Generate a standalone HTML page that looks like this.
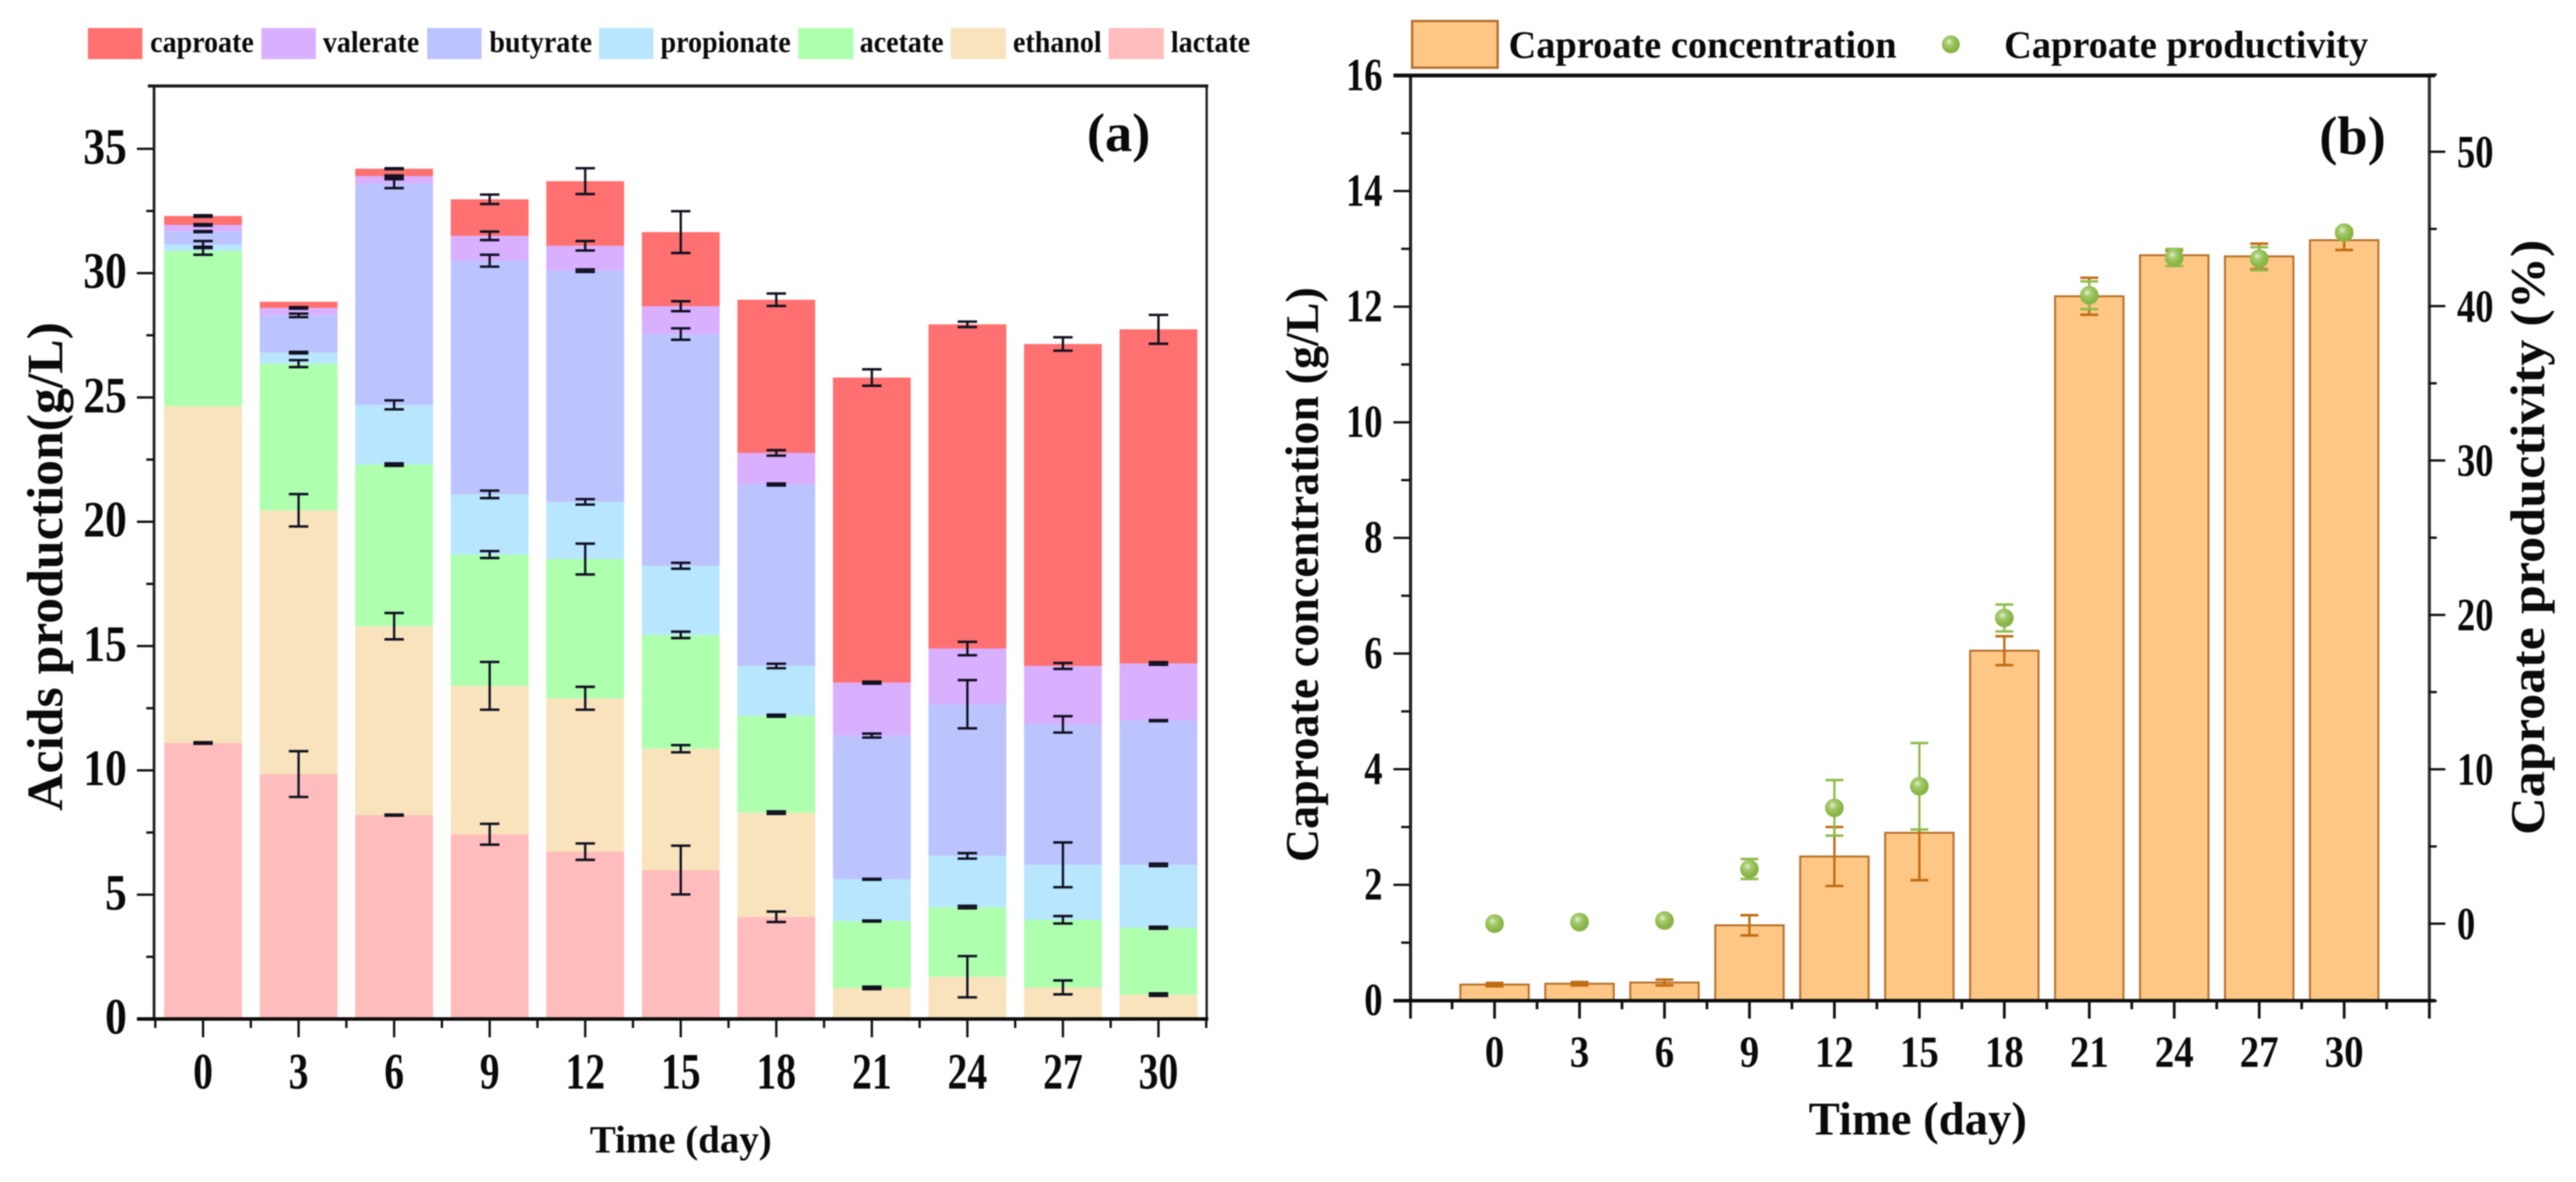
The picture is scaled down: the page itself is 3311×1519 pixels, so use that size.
<!DOCTYPE html>
<html lang="en">
<head>
<meta charset="utf-8">
<title>Caproate production charts</title>
<style>
html,body{margin:0;padding:0;background:#fff;}
#figure{display:block;width:3311px;height:1519px;filter:blur(0.7px);}
text{font-family:"Liberation Serif","Times New Roman",serif;font-weight:bold;fill:#0a0a0a;}
</style>
</head>
<body>
<svg id="figure" xmlns="http://www.w3.org/2000/svg" width="3311" height="1519" viewBox="0 0 3311 1519">
  <defs>
    <radialGradient id="ballGrad" cx="0.4" cy="0.36" r="0.62">
      <stop offset="0" stop-color="#e4f2cf"/>
      <stop offset="0.3" stop-color="#a9cc74"/>
      <stop offset="0.75" stop-color="#8ab848"/>
      <stop offset="1" stop-color="#86b344"/>
    </radialGradient>
  </defs>
  <rect width="3311" height="1519" fill="#fff"/>

  <g id="panelA">
    <g id="barsA"></g>
    <g id="errA"></g>
    <g id="axesA"></g>
    <g>
      <rect x="113" y="36" width="70" height="40" fill="#ff7070"/>
      <text transform="translate(193,67) scale(1,1.08)" font-size="36">caproate</text>
      <rect x="336" y="36" width="70" height="40" fill="#d8b0ff"/>
      <text transform="translate(415,67) scale(1,1.08)" font-size="36">valerate</text>
      <rect x="549" y="36" width="70" height="40" fill="#bcc4ff"/>
      <text transform="translate(629,67) scale(1,1.08)" font-size="36">butyrate</text>
      <rect x="770" y="36" width="70" height="40" fill="#b8e6ff"/>
      <text transform="translate(849,67) scale(1,1.08)" font-size="36">propionate</text>
      <rect x="1026" y="36" width="71" height="40" fill="#aeffae"/>
      <text transform="translate(1105,67) scale(1,1.08)" font-size="36">acetate</text>
      <rect x="1222" y="36" width="71" height="40" fill="#f8e3bc"/>
      <text transform="translate(1302,67) scale(1,1.08)" font-size="36">ethanol</text>
      <rect x="1425" y="36" width="71" height="40" fill="#ffbcbc"/>
      <text transform="translate(1505,67) scale(1,1.08)" font-size="36">lactate</text>
    </g>
    <text x="1397" y="194" font-size="70">(a)</text>
    <text x="875" y="1481" font-size="50" text-anchor="middle">Time (day)</text>
    <text transform="translate(80,1042) rotate(-90)" font-size="66" textLength="628" lengthAdjust="spacingAndGlyphs">Acids production(g/L)</text>
  </g>

  <g id="panelB">
    <g id="barsB"></g>
    <g id="errB"></g>
    <g id="ptsB"></g>
    <g id="axesB"></g>
    <g>
      <rect x="1815" y="27" width="110" height="60" fill="#ffc785" stroke="#b5702a" stroke-width="3"/>
      <text x="1939" y="74" font-size="49.3">Caproate concentration</text>
      <circle cx="2507.5" cy="57" r="11.5" fill="url(#ballGrad)"/>
      <text x="2576" y="74" font-size="49.3">Caproate productivity</text>
    </g>
    <text x="2981" y="198" font-size="70">(b)</text>
    <text x="2465" y="1458" font-size="60" text-anchor="middle">Time (day)</text>
    <text transform="translate(1694,1108) rotate(-90)" font-size="60" textLength="739" lengthAdjust="spacingAndGlyphs">Caproate concentration (g/L)</text>
    <text transform="translate(3270,1073) rotate(-90)" font-size="62" textLength="765" lengthAdjust="spacingAndGlyphs">Caproate productivity (%)</text>
  </g>
</svg>

<script>
const days = [0,3,6,9,12,15,18,21,24,27,30];

const seriesNames = ['lactate','ethanol','acetate','propionate','butyrate','valerate','caproate'];
const lactate    = [11.1,9.85,8.2,7.43,6.73,5.99,4.11,0,0,0,0];
const ethanol    = [13.55,10.61,7.6,5.97,6.17,4.88,4.19,1.25,1.7,1.27,0.98];
const acetate    = [6.25,5.9,6.5,5.28,5.6,4.58,3.9,2.69,2.8,2.72,2.69];
const propionate = [0.25,0.44,2.4,2.42,2.3,2.78,2.0,1.68,2.06,2.21,2.53];
const butyrate   = [0.52,1.5,8.9,9.4,9.3,9.32,7.3,5.78,6.1,5.65,5.8];
const valerate   = [0.27,0.3,0.3,1.0,1.0,1.12,1.27,2.13,2.24,2.35,2.3];
const caproate   = [0.36,0.25,0.3,1.47,2.6,2.98,6.16,12.27,13.04,12.95,13.44];

const lactateErr    = [0.03,0.92,0.02,0.42,0.33,0.98,0.21,0,0,0,0];
const ethanolErr    = [0,0.65,0.53,0.96,0.46,0.145,0.05,0.05,0.83,0.28,0.05];
const acetateErr    = [0.16,0.14,0.05,0.14,0.62,0.13,0.04,0.02,0.05,0.15,0.04];
const propionateErr = [0.14,0.03,0.18,0.15,0.11,0.12,0.09,0.02,0.11,0.9,0.05];
const butyrateErr   = [0.02,0.07,0.18,0.24,0.05,0.23,0.04,0.08,0.97,0.33,0.02];
const valerateErr   = [0.03,0.03,0.03,0.17,0.19,0.2,0.11,0.04,0.27,0.12,0.05];
const caproateErr   = [0.03,0,0.02,0.19,0.52,0.84,0.25,0.33,0.11,0.27,0.58];

const yTicksA = [0,5,10,15,20,25,30,35];
const yMinorTicksA = [2.5,7.5,12.5,17.5,22.5,27.5,32.5];

const concentration    = [0.275,0.29,0.31,1.3,2.49,2.9,6.05,12.18,12.89,12.87,13.15];
const concentrationErr = [0.03,0.03,0.05,0.175,0.51,0.82,0.25,0.32,0.08,0.22,0.17];
const productivity     = [0,0.1,0.2,3.54,7.5,8.9,19.8,40.7,43.15,43.07,44.76];
const productivityErr  = [0,0,0,0.65,1.8,2.8,0.87,0.9,0.55,0.75,0.2];

const yTicksLeftB = [0,2,4,6,8,10,12,14,16];
const yMinorLeftB = [1,3,5,7,9,11,13,15];
const yTicksRightB = [0,10,20,30,40,50];
const yMinorRightB = [-5,5,15,25,35,45,55];

const NS = 'http://www.w3.org/2000/svg';
const colorsA = {lactate:'#ffbcbc',ethanol:'#f8e3bc',acetate:'#aeffae',propionate:'#b8e6ff',butyrate:'#bcc4ff',valerate:'#d8b0ff',caproate:'#ff7070'};
const valuesA = {lactate,ethanol,acetate,propionate,butyrate,valerate,caproate};
const errorsA = {lactate:lactateErr,ethanol:ethanolErr,acetate:acetateErr,propionate:propionateErr,butyrate:butyrateErr,valerate:valerateErr,caproate:caproateErr};

const xA = i => 261 + 122.8 * i;
const yA = v => 1309.5 - 31.95 * v;
const xB = i => 1921 + 109.2 * i;
const yBL = v => 1285.7 - 74.3 * v;
const yBR = v => 1187 - 19.84 * v;

function shape(tag, parent, name) {
  const el = document.createElementNS(NS, tag);
  
  
  parent.appendChild(el);
  return el;
}
function line(parent, name, x1, y1, x2, y2, color, w) {
  const el = shape('line', parent, name);
  el.setAttribute('x1', x1);
  el.setAttribute('y1', y1);
  el.setAttribute('x2', x2);
  el.setAttribute('y2', y2);
  el.setAttribute('stroke', color);
  el.setAttribute('stroke-width', w);
  return el;
}
function rect(parent, name, x, y, w, h, fill) {
  const el = shape('rect', parent, name);
  el.setAttribute('x', x);
  el.setAttribute('y', y);
  el.setAttribute('width', w);
  el.setAttribute('height', h);
  el.setAttribute('fill', fill);
  return el;
}
function errorBar(parent, name, x, yTop, yBot, capW, color) {
  const g = shape('g', parent, name);
  line(g, 'error-stem', x, yTop, x, yBot, color, 3);
  line(g, 'error-cap-top', x - capW / 2, yTop, x + capW / 2, yTop, color, 3.2);
  line(g, 'error-cap-bottom', x - capW / 2, yBot, x + capW / 2, yBot, color, 3.2);
}
function label(parent, name, str, x, cy, size, anchor, sy) {
  const el = shape('text', parent, name);
  el.setAttribute('transform', 'translate(' + x + ',' + cy + ') scale(1,' + sy + ')');
  el.setAttribute('y', size * 0.338);
  el.setAttribute('font-size', size);
  el.setAttribute('text-anchor', anchor);
  el.textContent = str;
  return el;
}

/* Panel A */
const barsA = document.getElementById('barsA');
const errA = document.getElementById('errA');
const axesA = document.getElementById('axesA');
days.forEach((d, i) => {
  let base = 0;
  seriesNames.forEach(name => {
    const v = valuesA[name][i];
    const top = base + v;
    if (v > 0) {
      rect(barsA, 'bar-' + name + '-day-' + d, xA(i) - 50, yA(top), 100, yA(base) - yA(top), colorsA[name]);
    }
    const e = errorsA[name][i];
    if (e > 0) {
      errorBar(errA, 'error-' + name + '-day-' + d, xA(i), yA(top + e), yA(top - e), 25, '#111122');
    }
    base = top;
  });
});
line(axesA, 'left-spine', 198, 109, 198, 1311, '#222', 3.5);
line(axesA, 'right-spine', 1551, 109, 1551, 1311, '#222', 3);
line(axesA, 'top-spine', 190, 110.5, 1553, 110.5, '#1a1a1a', 4);
line(axesA, 'bottom-spine', 176, 1309.5, 1553, 1309.5, '#0a0a0a', 4.5);
yTicksA.forEach(v => {
  if (v > 0) {
    line(axesA, 'y-tick-' + v, 176, yA(v), 198, yA(v), '#111', 3);
  }
  label(axesA, 'y-tick-label-' + v, String(v), 163, yA(v) - 3, 56, 'end', 1.17);
});
yMinorTicksA.forEach(v => {
  line(axesA, 'y-minor-tick', 188, yA(v), 198, yA(v), '#111', 3);
});
days.forEach((d, i) => {
  line(axesA, 'x-tick-' + d, xA(i), 1309.5, xA(i), 1333, '#111', 3);
  label(axesA, 'x-tick-label-' + d, String(d), xA(i), 1377, 51, 'middle', 1.28);
});
for (let i = 0; i <= days.length; i++) {
  line(axesA, 'x-minor-tick', xA(i - 0.5), 1309.5, xA(i - 0.5), 1321, '#111', 3);
}

/* Panel B */
const barsB = document.getElementById('barsB');
const errB = document.getElementById('errB');
const ptsB = document.getElementById('ptsB');
const axesB = document.getElementById('axesB');
days.forEach((d, i) => {
  const bar = rect(barsB, 'bar-concentration-day-' + d, xB(i) - 44, yBL(concentration[i]), 88, yBL(0) - yBL(concentration[i]), '#ffc785');
  bar.setAttribute('stroke', '#b5702a');
  bar.setAttribute('stroke-width', '2.5');
  errorBar(errB, 'error-concentration-day-' + d, xB(i), yBL(concentration[i] + concentrationErr[i]), yBL(concentration[i] - concentrationErr[i]), 23, '#c26a10');
});
days.forEach((d, i) => {
  if (productivityErr[i] > 0) {
    errorBar(ptsB, 'error-productivity-day-' + d, xB(i), yBR(productivity[i] + productivityErr[i]), yBR(productivity[i] - productivityErr[i]), 23, '#8fbc4e');
  }
  const c = shape('circle', ptsB, 'point-productivity-day-' + d);
  c.setAttribute('cx', xB(i));
  c.setAttribute('cy', yBR(productivity[i]));
  c.setAttribute('r', 12);
  c.setAttribute('fill', 'url(#ballGrad)');
});
line(axesB, 'left-spine', 1813, 97, 1813, 1287, '#222', 4);
line(axesB, 'right-spine', 3122.5, 97, 3122.5, 1287, '#333', 4);
line(axesB, 'top-spine', 1791, 97, 3130, 97, '#111', 5);
line(axesB, 'bottom-spine', 1791, 1286, 3130, 1286, '#0a0a0a', 4.5);
yTicksLeftB.forEach(v => {
  if (v > 0 && v < 16) {
    line(axesB, 'left-y-tick-' + v, 1791, yBL(v), 1813, yBL(v), '#111', 3);
  }
  label(axesB, 'left-y-tick-label-' + v, String(v), 1777, yBL(v) - 1, 47, 'end', 1.25);
});
yMinorLeftB.forEach(v => {
  line(axesB, 'left-y-minor-tick', 1801, yBL(v), 1813, yBL(v), '#111', 3);
});
yTicksRightB.forEach(v => {
  line(axesB, 'right-y-tick-' + v, 3122, yBR(v), 3143, yBR(v), '#111', 3);
  label(axesB, 'right-y-tick-label-' + v, String(v), 3158, yBR(v), 47, 'start', 1.25);
});
yMinorRightB.forEach(v => {
  line(axesB, 'right-y-minor-tick', 3122, yBR(v), 3132, yBR(v), '#111', 3);
});
days.forEach((d, i) => {
  line(axesB, 'x-tick-' + d, xB(i), 1286, xB(i), 1309, '#111', 3.5);
  label(axesB, 'x-tick-label-' + d, String(d), xB(i), 1351.5, 50, 'middle', 1.15);
});
for (let i = 0; i <= days.length; i++) {
  line(axesB, 'x-minor-tick', xB(i - 0.5), 1286, xB(i - 0.5), 1297, '#111', 3.5);
}
line(axesB, 'x-boundary-tick-left', 1813, 1286, 1813, 1309, '#111', 3.5);
line(axesB, 'x-boundary-tick-right', 3122.5, 1286, 3122.5, 1309, '#111', 3.5);
</script>
</body>
</html>
